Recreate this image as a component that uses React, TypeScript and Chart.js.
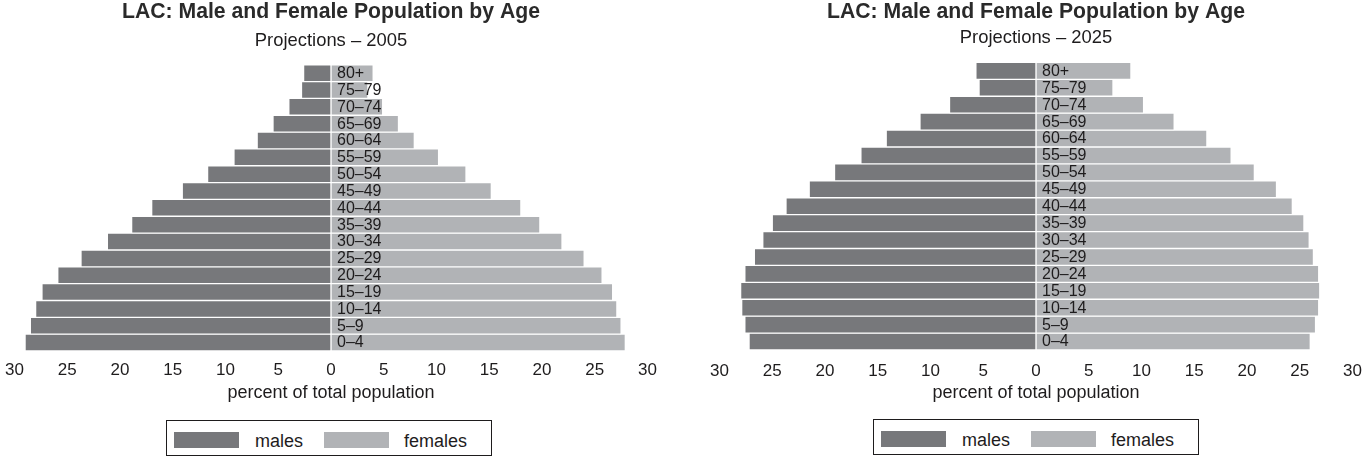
import React, { useEffect, useRef } from 'react';
import { Chart, registerables } from 'chart.js';

Chart.register(...registerables);

// ---------- data ----------
const AGE_GROUPS = ['0–4', '5–9', '10–14', '15–19', '20–24', '25–29', '30–34', '35–39', '40–44', '45–49', '50–54', '55–59', '60–64', '65–69', '70–74', '75–79', '80+'];

const MALES_2005 = [29.0, 28.5, 28.0, 27.4, 25.9, 23.7, 21.2, 18.9, 17.0, 14.1, 11.7, 9.2, 7.0, 5.5, 4.0, 2.8, 2.6];
const FEMALES_2005 = [27.9, 27.5, 27.1, 26.7, 25.7, 24.0, 21.9, 19.8, 18.0, 15.2, 12.8, 10.2, 7.9, 6.4, 4.9, 3.5, 4.0];

const MALES_2025 = [27.2, 27.6, 27.9, 28.0, 27.6, 26.7, 25.9, 25.0, 23.7, 21.5, 19.1, 16.6, 14.2, 11.0, 8.2, 5.4, 5.7];
const FEMALES_2025 = [26.0, 26.5, 26.8, 26.9, 26.8, 26.3, 25.9, 25.4, 24.3, 22.8, 20.7, 18.5, 16.2, 13.1, 10.2, 7.3, 9.0];

const TITLE = 'LAC: Male and Female Population by Age';
const SUBTITLE_2005 = 'Projections – 2005';
const SUBTITLE_2025 = 'Projections – 2025';
const AXIS_TITLE = 'percent of total population';
const SERIES_LABELS = ['males', 'females'];
const SERIES_COLORS = ['#77787b', '#b1b3b6'];
const X_MIN = -30;
const X_MAX = 30;
const X_STEP = 5;

const FONT = '"Liberation Sans", Arial, Helvetica, sans-serif';
const TEXT = '#1e1c1d';

Chart.defaults.font.family = FONT;

const ageLabelPlugin = {
  id: 'ageLabels',
  afterDatasetsDraw(chart: any) {
    const { ctx } = chart;
    const xs = chart.scales.x;
    const ys = chart.scales.y;
    const x0 = xs.getPixelForValue(0);
    ctx.save();
    ctx.font = `16px ${FONT}`;
    ctx.fillStyle = TEXT;
    ctx.textAlign = 'left';
    ctx.textBaseline = 'middle';
    chart.data.labels.forEach((lab: string, i: number) => {
      ctx.fillText(lab, x0 + 6, ys.getPixelForValue(i) + 0.5);
    });
    ctx.restore();
  },
};

type PanelProps = {
  left: number;
  width: number;
  males: number[];
  females: number[];
  subtitle: string;
  padLeft: number;
  padRight: number;
  subTop: number;
  subBottom: number;
  tickPad: number;
  scaleHeight: number;
};

function Pyramid(p: PanelProps) {
  const ref = useRef<HTMLCanvasElement | null>(null);
  useEffect(() => {
    if (!ref.current) return;
    const chart = new Chart(ref.current, {
      type: 'bar',
      data: {
        labels: AGE_GROUPS,
        datasets: [
          {
            label: SERIES_LABELS[0],
            data: p.males.map((v) => -v),
            backgroundColor: SERIES_COLORS[0],
            borderColor: '#ffffff',
            borderWidth: 1,
            borderSkipped: false,
            barPercentage: 1,
            categoryPercentage: 1,
          },
          {
            label: SERIES_LABELS[1],
            data: p.females,
            backgroundColor: SERIES_COLORS[1],
            borderColor: '#ffffff',
            borderWidth: 1,
            borderSkipped: false,
            barPercentage: 1,
            categoryPercentage: 1,
          },
        ],
      },
      options: {
        indexAxis: 'y',
        responsive: false,
        animation: false,
        devicePixelRatio: 1,
        events: [],
        layout: { padding: { top: 1, bottom: 0, left: p.padLeft, right: p.padRight } },
        plugins: {
          legend: { display: false },
          tooltip: { enabled: false },
          title: {
            display: true,
            text: TITLE,
            color: '#2a2a2a',
            font: { size: 21.2, weight: 'bold', family: FONT },
            padding: { top: 0, bottom: 0 },
          },
          subtitle: {
            display: true,
            text: p.subtitle,
            color: TEXT,
            font: { size: 18.4, family: FONT },
            padding: { top: p.subTop, bottom: p.subBottom },
          },
        },
        scales: {
          x: {
            type: 'linear',
            stacked: true,
            min: X_MIN,
            max: X_MAX,
            grid: { display: false, drawTicks: true, tickLength: p.tickPad },
            border: { display: false },
            afterFit: (scale: any) => {
              scale.height = p.scaleHeight;
            },
            ticks: {
              stepSize: X_STEP,
              autoSkip: false,
              maxRotation: 0,
              padding: 0,
              color: TEXT,
              font: { size: 17, family: FONT },
              callback: (v: any) => String(Math.abs(Number(v))),
            },
            title: {
              display: true,
              text: AXIS_TITLE,
              color: TEXT,
              font: { size: 18, family: FONT },
              padding: { top: 0, bottom: 0 },
            },
          },
          y: {
            type: 'category',
            stacked: true,
            reverse: true,
            display: false,
          },
        },
      } as any,
      plugins: [ageLabelPlugin],
    });
    return () => chart.destroy();
  }, []);
  return (
    <canvas
      ref={ref}
      width={p.width}
      height={406}
      style={{ position: 'absolute', left: p.left, top: -2, width: p.width, height: 406, display: 'block' }}
    />
  );
}

function Legend({ left, top }: { left: number; top: number }) {
  const swatchX = [7, 157];
  const textX = [88, 237];
  return (
    <div
      style={{
        position: 'absolute',
        left,
        top,
        width: 324,
        height: 34,
        border: `1px solid ${TEXT}`,
        background: '#fff',
      }}
    >
      {SERIES_LABELS.map((lab, i) => (
        <React.Fragment key={lab}>
          <div
            style={{
              position: 'absolute',
              left: swatchX[i],
              top: 11,
              width: 65,
              height: 16,
              background: SERIES_COLORS[i],
            }}
          />
          <div
            style={{
              position: 'absolute',
              left: textX[i],
              top: 10,
              font: `18px ${FONT}`,
              lineHeight: '20px',
              color: TEXT,
              whiteSpace: 'nowrap',
            }}
          >
            {lab}
          </div>
        </React.Fragment>
      ))}
    </div>
  );
}

export default function App() {
  return (
    <div style={{ position: 'absolute', left: 0, top: 0, width: 1363, height: 457, overflow: 'hidden', background: '#fff' }}>
      <Pyramid
        left={0}
        width={662}
        males={MALES_2005}
        females={FEMALES_2005}
        subtitle={SUBTITLE_2005}
        padLeft={14.5}
        padRight={14.5}
        subTop={5.8}
        subBottom={12.4}
        tickPad={9.3}
        scaleHeight={53}
      />
      <Pyramid
        left={700}
        width={663}
        males={MALES_2025}
        females={FEMALES_2025}
        subtitle={SUBTITLE_2025}
        padLeft={19.5}
        padRight={10.5}
        subTop={2}
        subBottom={13.9}
        tickPad={10.8}
        scaleHeight={54}
      />
      <Legend left={166} top={420} />
      <Legend left={873} top={419} />
    </div>
  );
}
